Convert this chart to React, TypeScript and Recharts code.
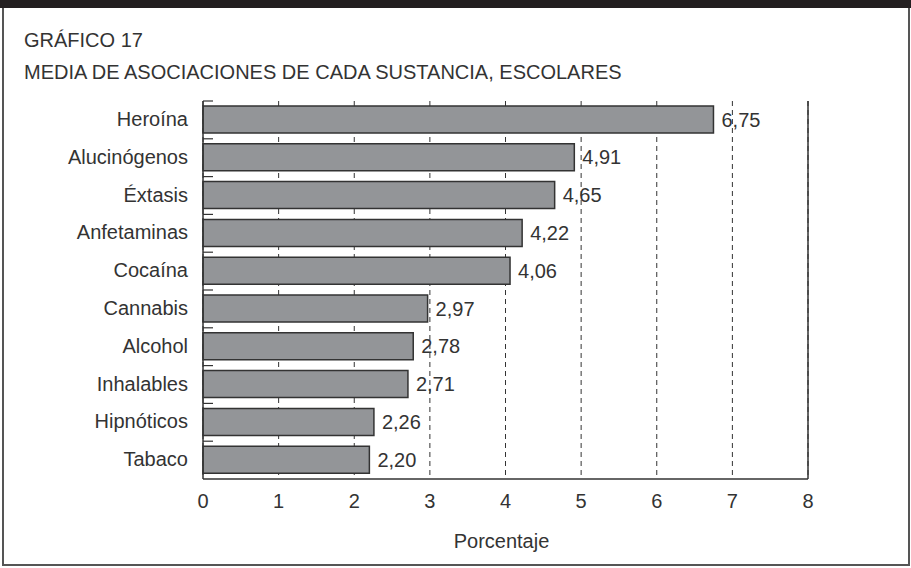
import { Bar, BarChart, CartesianGrid, LabelList, ReferenceLine, XAxis, YAxis } from "recharts";

const categories = [
  "Heroína",
  "Alucinógenos",
  "Éxtasis",
  "Anfetaminas",
  "Cocaína",
  "Cannabis",
  "Alcohol",
  "Inhalables",
  "Hipnóticos",
  "Tabaco",
];
const values = [6.75, 4.91, 4.65, 4.22, 4.06, 2.97, 2.78, 2.71, 2.26, 2.2];
const xTicks = [0, 1, 2, 3, 4, 5, 6, 7, 8];

const data = categories.map((name, i) => ({ name, value: values[i] }));

const FONT = "'Liberation Sans', Arial, sans-serif";
const INK = "#333";

const fmt = (v: number) => v.toFixed(2).replace(".", ",");

function CatTick(props: any) {
  const { x, y, payload } = props;
  const half = payload && payload.offset ? payload.offset : 18.9;
  return (
    <g>
      <text x={x - 7} y={y} dy="0.3em" textAnchor="end" fill={INK} fontSize={20} fontFamily={FONT}>
        {payload.value}
      </text>
      <line x1={x + 8} x2={x + 18} y1={y - half} y2={y - half} stroke={INK} strokeWidth={1.2} />
    </g>
  );
}

export default function App() {
  return (
    <div
      style={{
        position: "absolute",
        left: 0,
        top: 0,
        width: 911,
        height: 568,
        background: "#fff",
        fontFamily: FONT,
        color: INK,
      }}
    >
      <div style={{ position: "absolute", left: 0, top: 0, width: 911, height: 8, background: "#231f20" }} />
      <div
        style={{
          position: "absolute",
          boxSizing: "border-box",
          left: 2,
          top: 8,
          width: 908,
          height: 558,
          borderLeft: "2px solid #555",
          borderRight: "2px solid #555",
          borderBottom: "2px solid #555",
        }}
      />
      <div style={{ position: "absolute", left: 24, top: 24, fontSize: 20, lineHeight: "32px" }}>
        GRÁFICO 17
        <br />
        MEDIA DE ASOCIACIONES DE CADA SUSTANCIA, ESCOLARES
      </div>
      <div style={{ position: "absolute", left: 0, width: 1003, top: 530, fontSize: 20, textAlign: "center" }}>
        Porcentaje
      </div>
      <div style={{ position: "absolute", left: 0, top: 0 }}>
        <BarChart
          width={911}
          height={568}
          data={data}
          layout="vertical"
          margin={{ top: 101, right: 103, bottom: 59, left: 8 }}
          barSize={27}
        >
          <CartesianGrid horizontal={false} stroke={INK} strokeDasharray="5 4" />
          <XAxis
            type="number"
            domain={[0, 8]}
            ticks={xTicks}
            interval={0}
            height={30}
            tickLine={false}
            axisLine={{ stroke: INK, strokeWidth: 1.5 }}
            tickMargin={9}
            tick={{ fill: INK, fontSize: 20, fontFamily: FONT }}
          />
          <XAxis
            xAxisId="top"
            orientation="top"
            type="number"
            domain={[0, 8]}
            height={0}
            tick={false}
            tickLine={false}
            axisLine={{ stroke: INK, strokeWidth: 1.5 }}
          />
          <YAxis
            type="category"
            dataKey="name"
            width={195}
            tickLine={false}
            axisLine={{ stroke: INK, strokeWidth: 1.5 }}
            tick={<CatTick />}
            interval={0}
          />
          <ReferenceLine x={8} stroke={INK} strokeWidth={1.5} />
          <Bar dataKey="value" fill="#939598" stroke={INK} strokeWidth={1.5} isAnimationActive={false}>
            <LabelList
              dataKey="value"
              position="right"
              offset={8}
              formatter={(v: any) => fmt(Number(v))}
              fill={INK}
              fontSize={20}
              fontFamily={FONT}
            />
          </Bar>
        </BarChart>
      </div>
    </div>
  );
}
